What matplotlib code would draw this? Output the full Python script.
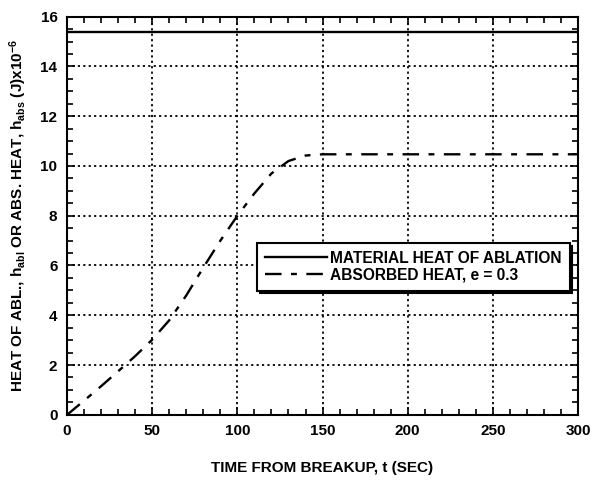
import matplotlib
matplotlib.use("Agg")
import matplotlib.pyplot as plt
from matplotlib.ticker import MultipleLocator

# material heat of ablation (constant)
t_abl = [0, 300]
h_abl = [15.4, 15.4]

# absorbed heat, e = 0.3
t_abs = [0, 10, 20, 30, 40, 50, 60, 70, 80, 90, 100, 110, 120, 130, 140, 150, 200, 250, 300]
h_abs = [0, 0.57, 1.15, 1.75, 2.36, 3.02, 3.8, 4.8, 5.92, 7.0, 8.0, 8.9, 9.7, 10.2, 10.42, 10.47,
         10.47, 10.47, 10.47]

x_ticks = [0, 50, 100, 150, 200, 250, 300]
y_ticks = [0, 2, 4, 6, 8, 10, 12, 14, 16]

plt.rcParams["font.family"] = ["Liberation Sans", "DejaVu Sans"]
plt.rcParams["font.weight"] = "bold"
plt.rcParams["mathtext.default"] = "regular"

fig = plt.figure(figsize=(5.94, 4.92), dpi=100)
ax = fig.add_axes([0.113, 0.157, 0.86, 0.809])

ax.plot(t_abl, h_abl, color="black", linewidth=1.7, label="MATERIAL HEAT OF ABLATION")
ax.plot(t_abs, h_abs, color="black", linewidth=1.7, dashes=(7, 4, 2.5, 4),
        label="ABSORBED HEAT, e = 0.3")

ax.set_xlim(0, 300)
ax.set_ylim(0, 16)
ax.set_xticks(x_ticks)
ax.set_yticks(y_ticks)
ax.xaxis.set_minor_locator(MultipleLocator(10))
ax.yaxis.set_minor_locator(MultipleLocator(0.5))
ax.tick_params(which="both", direction="in", top=True, right=True, width=1.2)
ax.tick_params(which="major", length=6, labelsize=11, pad=7)
ax.tick_params(which="minor", length=4)

ax.grid(True, which="major", color="black", linestyle=(0, (1.2, 1.8)), linewidth=1.3)
for s in ax.spines.values():
    s.set_linewidth(1.5)

ax.set_xlabel("TIME FROM BREAKUP, t (SEC)", fontsize=11, fontweight="bold", labelpad=16)
ax.set_ylabel(r"HEAT OF ABL., h$_{abl}$ OR ABS. HEAT, h$_{abs}$ (J)x10$^{-6}$",
              fontsize=11, fontweight="bold", labelpad=8)

leg = ax.legend(loc="upper left", bbox_to_anchor=(0.372, 0.432), borderaxespad=0,
                fancybox=False, shadow={"color": "black", "alpha": 1}, edgecolor="black",
                prop={"size": 11.2, "weight": "bold"}, handlelength=4.0, handletextpad=0.2,
                borderpad=0.5, labelspacing=0.15, framealpha=1)
leg.get_frame().set_linewidth(1.5)

fig.savefig("out.png", dpi=100)
